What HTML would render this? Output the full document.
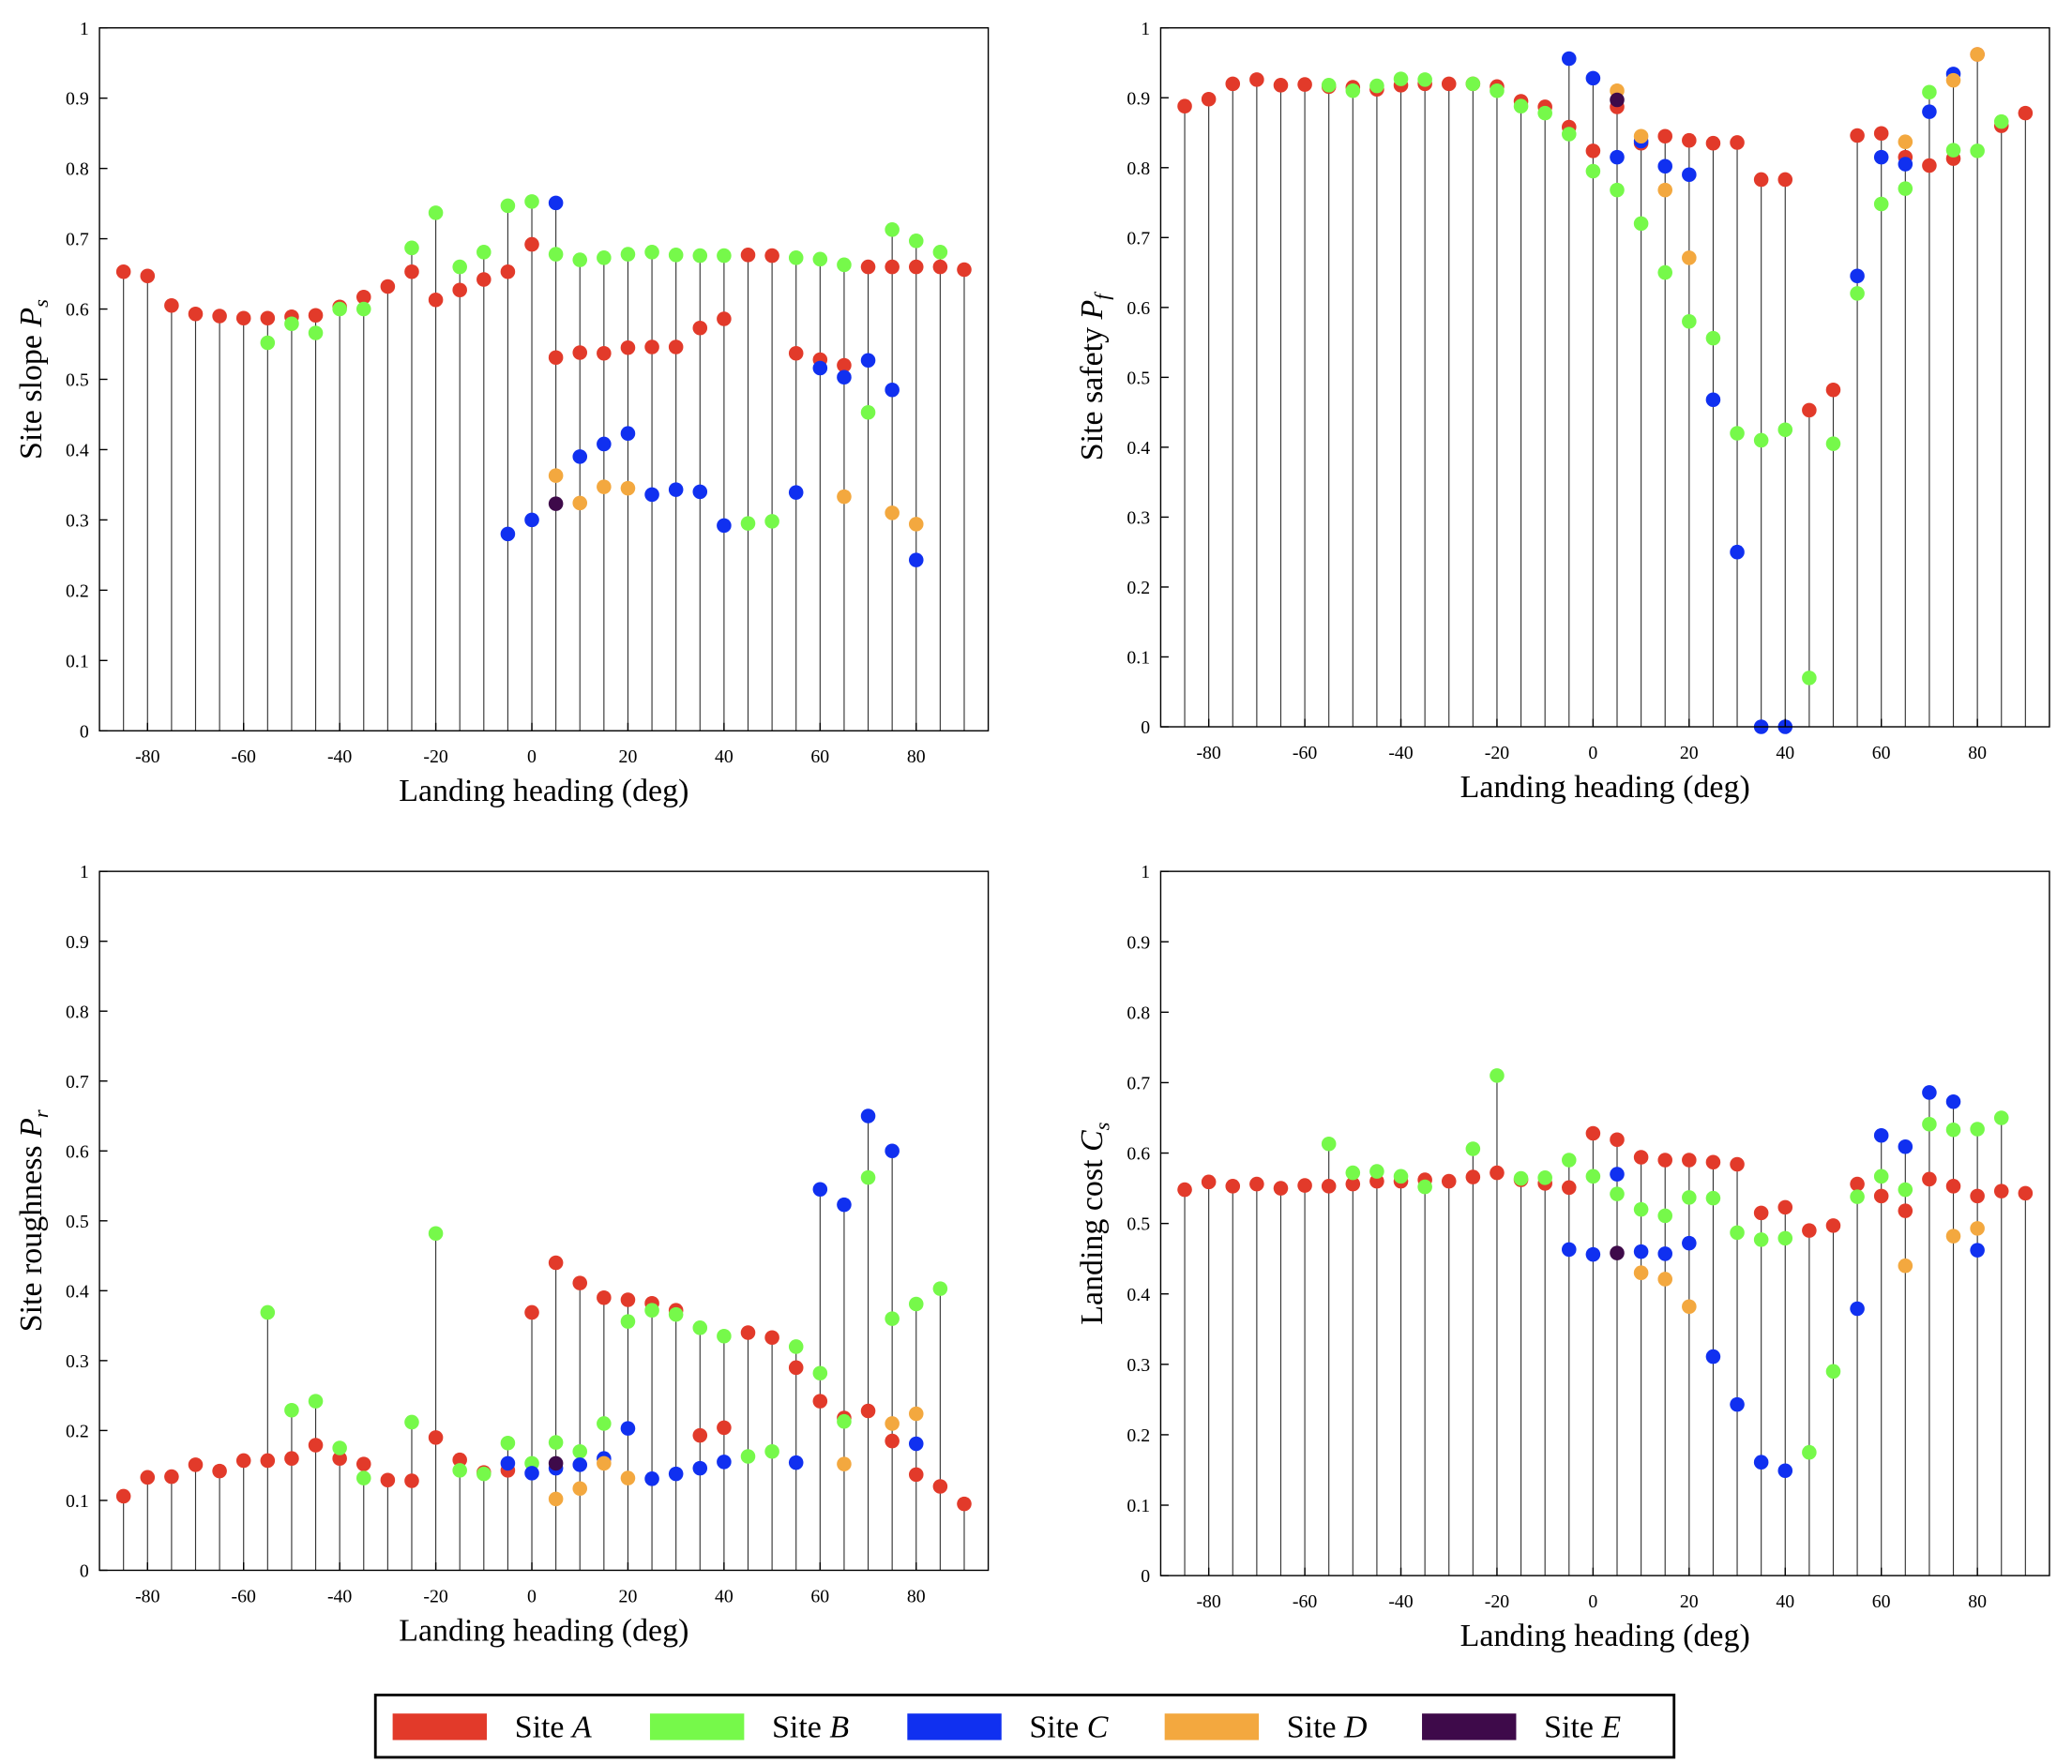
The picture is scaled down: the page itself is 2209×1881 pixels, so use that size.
<!DOCTYPE html>
<html><head><meta charset="utf-8"><style>
body{margin:0;background:#fff}
svg text{font-family:"Liberation Serif",serif;fill:#000}
</style></head><body>
<svg id="svg" width="2209" height="1876" viewBox="0 0 1562 1326.5" xmlns="http://www.w3.org/2000/svg"></svg>
<script>
const headings=[];for(let h=-85;h<=90;h+=5)headings.push(h);
const yTicks=[0,0.1,0.2,0.3,0.4,0.5,0.6,0.7,0.8,0.9,1];
const xTicks=[-80,-60,-40,-20,0,20,40,60,80];
const siteNames=["A","B","C","D","E"];
const siteColors=["#e23a2a","#76f94a","#1030f0","#f3a83f","#3e0a4a"];
const slopeA=[0.653,0.647,0.605,0.593,0.590,0.587,0.587,0.589,0.591,0.603,0.617,0.632,0.653,0.613,0.627,0.642,0.653,0.692,0.531,0.538,0.537,0.545,0.546,0.546,0.573,0.586,0.677,0.676,0.537,0.528,0.520,0.660,0.660,0.660,0.660,0.656];
const slopeB={"-55":0.552,"-50":0.579,"-45":0.566,"-40":0.600,"-35":0.600,"-25":0.687,"-20":0.737,"-15":0.660,"-10":0.681,"-5":0.747,"0":0.753,"5":0.678,"10":0.670,"15":0.673,"20":0.678,"25":0.681,"30":0.677,"35":0.676,"40":0.676,"45":0.295,"50":0.298,"55":0.673,"60":0.671,"65":0.663,"70":0.453,"75":0.713,"80":0.697,"85":0.681};
const slopeC={"-5":0.280,"0":0.300,"5":0.751,"10":0.390,"15":0.408,"20":0.423,"25":0.336,"30":0.343,"35":0.340,"40":0.292,"55":0.339,"60":0.516,"65":0.503,"70":0.527,"75":0.485,"80":0.243};
const slopeD={"5":0.363,"10":0.324,"15":0.347,"20":0.345,"65":0.333,"75":0.310,"80":0.294};
const slopeE={"5":0.323};
const safeA=[0.888,0.898,0.920,0.926,0.918,0.919,0.916,0.915,0.912,0.918,0.920,0.920,0.920,0.916,0.895,0.887,0.858,0.824,0.887,0.835,0.845,0.839,0.835,0.836,0.783,0.783,0.453,0.482,0.846,0.849,0.815,0.803,0.813,0.962,0.860,0.878];
const safeB={"-55":0.918,"-50":0.910,"-45":0.917,"-40":0.927,"-35":0.926,"-25":0.920,"-20":0.910,"-15":0.888,"-10":0.878,"-5":0.848,"0":0.795,"5":0.768,"10":0.720,"15":0.650,"20":0.580,"25":0.556,"30":0.420,"35":0.410,"40":0.425,"45":0.070,"50":0.405,"55":0.620,"60":0.748,"65":0.770,"70":0.908,"75":0.825,"80":0.824,"85":0.866};
const safeC={"-5":0.956,"0":0.928,"5":0.815,"10":0.838,"15":0.802,"20":0.790,"25":0.468,"30":0.250,"35":0.0,"40":0.0,"55":0.645,"60":0.815,"65":0.805,"70":0.880,"75":0.934};
const safeD={"5":0.910,"10":0.845,"15":0.768,"20":0.671,"65":0.837,"75":0.925,"80":0.962};
const safeE={"5":0.897};
const roughA=[0.106,0.133,0.134,0.151,0.142,0.157,0.157,0.160,0.179,0.160,0.152,0.129,0.128,0.190,0.158,0.140,0.143,0.369,0.440,0.411,0.390,0.387,0.382,0.372,0.193,0.204,0.340,0.333,0.290,0.242,0.218,0.228,0.185,0.137,0.120,0.095];
const roughB={"-55":0.369,"-50":0.229,"-45":0.242,"-40":0.175,"-35":0.132,"-25":0.212,"-20":0.482,"-15":0.143,"-10":0.138,"-5":0.182,"0":0.153,"5":0.183,"10":0.170,"15":0.210,"20":0.356,"25":0.372,"30":0.366,"35":0.347,"40":0.335,"45":0.163,"50":0.170,"55":0.320,"60":0.282,"65":0.213,"70":0.562,"75":0.360,"80":0.381,"85":0.403};
const roughC={"-5":0.153,"0":0.139,"5":0.146,"10":0.151,"15":0.160,"20":0.203,"25":0.131,"30":0.138,"35":0.146,"40":0.155,"55":0.154,"60":0.545,"65":0.523,"70":0.650,"75":0.600,"80":0.181};
const roughD={"5":0.102,"10":0.117,"15":0.153,"20":0.132,"65":0.152,"75":0.210,"80":0.224};
const roughE={"5":0.153};
const costA=[0.548,0.559,0.553,0.556,0.550,0.554,0.553,0.556,0.560,0.560,0.562,0.560,0.566,0.572,0.562,0.557,0.551,0.628,0.619,0.594,0.590,0.590,0.587,0.584,0.515,0.523,0.490,0.497,0.556,0.539,0.518,0.563,0.553,0.539,0.546,0.543];
const costB={"-55":0.613,"-50":0.572,"-45":0.574,"-40":0.567,"-35":0.552,"-25":0.606,"-20":0.710,"-15":0.564,"-10":0.565,"-5":0.590,"0":0.567,"5":0.542,"10":0.520,"15":0.511,"20":0.537,"25":0.536,"30":0.487,"35":0.477,"40":0.479,"45":0.175,"50":0.290,"55":0.538,"60":0.567,"65":0.548,"70":0.641,"75":0.633,"80":0.634,"85":0.650};
const costC={"-5":0.463,"0":0.456,"5":0.570,"10":0.460,"15":0.457,"20":0.472,"25":0.311,"30":0.243,"35":0.161,"40":0.149,"55":0.379,"60":0.625,"65":0.609,"70":0.686,"75":0.673,"80":0.462};
const costD={"10":0.430,"15":0.421,"20":0.382,"65":0.440,"75":0.482,"80":0.493};
const costE={"5":0.458};

const NS="http://www.w3.org/2000/svg",svg=document.getElementById("svg");
function mk(t,a,p){const e=document.createElementNS(NS,t);for(const k in a)e.setAttribute(k,a[k]);(p||svg).appendChild(e);return e;}
function toMap(arr){const m={};headings.forEach((h,i)=>m[h]=arr[i]);return m;}
const panels=[
 {name:"slope",x0:75,x1:745,y0:21,y1:551,lab:"Site slope ",sym:"P",sub:"s",series:[toMap(slopeA),slopeB,slopeC,slopeD,slopeE]},
 {name:"safety",x0:875,x1:1545,y0:21,y1:548,lab:"Site safety ",sym:"P",sub:"f",series:[toMap(safeA),safeB,safeC,safeD,safeE]},
 {name:"roughness",x0:75,x1:745,y0:657,y1:1184,lab:"Site roughness ",sym:"P",sub:"r",series:[toMap(roughA),roughB,roughC,roughD,roughE]},
 {name:"cost",x0:875,x1:1545,y0:657,y1:1188,lab:"Landing cost ",sym:"C",sub:"s",series:[toMap(costA),costB,costC,costD,costE]}
];
panels.forEach(p=>{
 const g=mk("g",{});
 
 
 const xs=v=>p.x0+(v+90)/185*(p.x1-p.x0);
 const ys=v=>p.y1-v*(p.y1-p.y0);
 headings.forEach(h=>{let mx=null;p.series.forEach(s=>{if(s[h]!==undefined)mx=mx===null?s[h]:Math.max(mx,s[h]);});
  if(mx!==null){const l=mk("line",{x1:xs(h),x2:xs(h),y1:p.y1,y2:ys(mx),stroke:"#333","stroke-width":0.8},g);
  }});
 p.series.forEach((s,si)=>{for(const k in s){const c=mk("circle",{cx:xs(+k),cy:ys(s[k]),r:5.5,fill:siteColors[si]},g);
  }});
 const box=mk("rect",{x:p.x0,y:p.y0,width:p.x1-p.x0,height:p.y1-p.y0,fill:"none",stroke:"#000","stroke-width":1},g);
 
 yTicks.forEach(t=>{mk("line",{x1:p.x0,x2:p.x0+6,y1:ys(t),y2:ys(t),stroke:"#000","stroke-width":1},g);
  const tx=mk("text",{x:p.x0-8,y:ys(t)+5,"text-anchor":"end","font-size":14},g);tx.textContent=String(t);
  });
 xTicks.forEach(t=>{mk("line",{x1:xs(t),x2:xs(t),y1:p.y1,y2:p.y1-6,stroke:"#000","stroke-width":1},g);
  const tx=mk("text",{x:xs(t),y:p.y1+24,"text-anchor":"middle","font-size":14},g);tx.textContent=String(t);
  });
 const xl=mk("text",{x:(p.x0+p.x1)/2,y:p.y1+53,"text-anchor":"middle","font-size":24},g);xl.textContent="Landing heading (deg)";
 
 const cy=(p.y0+p.y1)/2;
 const yl=mk("text",{x:0,y:0,"text-anchor":"middle","font-size":24,transform:`translate(${p.x0-44},${cy}) rotate(-90)`},g);
 
 yl.innerHTML=p.lab+'<tspan font-style="italic">'+p.sym+'</tspan><tspan font-style="italic" font-size="16" dy="5">'+p.sub+'</tspan>';
});
const lg=mk("g",{});


mk("rect",{x:283,y:1278,width:979,height:47,fill:"#fff",stroke:"#000","stroke-width":2},lg);
siteNames.forEach((n,i)=>{const x=296+i*194;
 const e=mk("g",{},lg);
 
 
 mk("rect",{x:x,y:1292,width:71,height:20,fill:siteColors[i]},e);
 const t=mk("text",{x:x+92,y:1310,"font-size":24},e);t.innerHTML='Site <tspan font-style="italic">'+n+'</tspan>';});
</script>
</body></html>
